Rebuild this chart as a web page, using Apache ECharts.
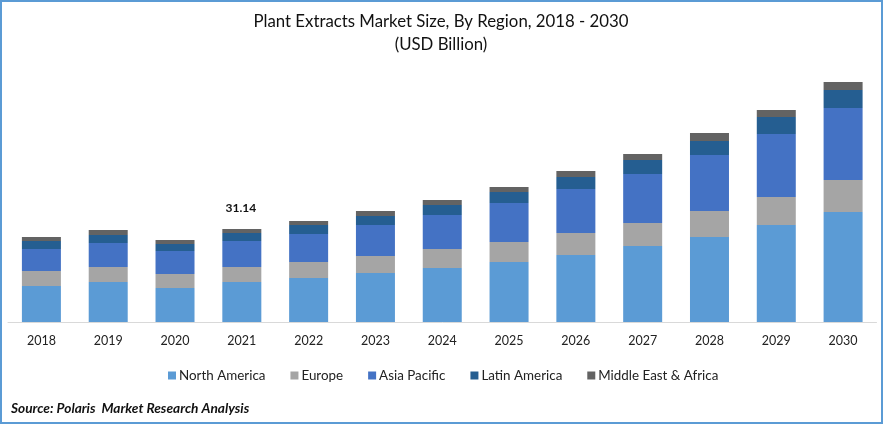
<!DOCTYPE html>
<html>
<head>
<meta charset="utf-8">
<style>
  html, body { margin: 0; padding: 0; background: #fff; }
  #chart { width: 884px; height: 425px; }
</style>
<script src="https://cdn.jsdelivr.net/npm/echarts@6/dist/echarts.min.js"></script>
</head>
<body>
<div id="chart"></div>
<script>
var years = ['2018','2019','2020','2021','2022','2023','2024','2025','2026','2027','2028','2029','2030'];
var northAmerica = [12.06,13.40,11.39,13.40,14.74,16.42,18.09,20.10,22.45,25.46,28.48,32.50,36.85];
var europe = [5.03,5.03,4.69,5.03,5.36,5.70,6.37,6.70,7.37,7.71,8.71,9.38,10.72];
var asiaPacific = [7.37,8.04,7.71,8.71,9.38,10.39,11.39,13.07,14.74,16.42,18.76,21.11,24.12];
var latinAmerica = [2.68,2.68,2.35,2.68,3.02,3.02,3.35,3.69,4.02,4.69,4.69,5.70,6.03];
var middleEast = [1.34,1.68,1.34,1.32,1.34,1.68,1.68,1.68,2.01,2.01,2.68,2.35,2.68];
var labelYear = '2021';
var labelText = '31.14';

var font = 'Lato';
function bar(name, values, color) {
  return { name: name, type: 'bar', stack: 'total', barWidth: 39, data: values, itemStyle: { color: color } };
}

var series = [
  bar('North America', northAmerica, '#5B9BD5'),
  bar('Europe', europe, '#A5A5A5'),
  bar('Asia Pacific', asiaPacific, '#4472C4'),
  bar('Latin America', latinAmerica, '#255E91'),
  bar('Middle East & Africa', middleEast, '#636363')
];
// total is only printed over one year
series[4].label = {
  show: true, position: 'top', distance: 15, offset: [-1, 0],
  fontFamily: font, fontSize: 12, fontWeight: 'bold', color: '#111',
  formatter: function (p) { return p.name === labelYear ? labelText : ''; }
};

var chart = echarts.init(document.getElementById('chart'));
chart.setOption({
  animation: false,
  backgroundColor: '#fff',
  title: [{
    text: 'Plant Extracts Market Size, By Region, 2018 - 2030\n(USD Billion)',
    left: 436, top: 5, textAlign: 'center',
    textStyle: { fontFamily: font, fontSize: 16.8, fontWeight: 'normal', color: '#111', lineHeight: 23 }
  }, {
    text: 'Source: Polaris  Market Research Analysis',
    left: 6, top: 397,
    textStyle: { fontFamily: font, fontSize: 13.7, fontWeight: 'bold', fontStyle: 'italic', color: '#111' }
  }],
  legend: {
    left: 163, top: 364, icon: 'rect', itemWidth: 8, itemHeight: 8, itemGap: 25,
    textStyle: { fontFamily: font, fontSize: 13.4, color: '#222', padding: [0, 0, 0, -2] },
    data: series.map(function (s) { return s.name; })
  },
  grid: { left: 8, right: 7.5, top: 72, bottom: 103 },
  xAxis: {
    type: 'category', data: years,
    axisTick: { show: false },
    axisLine: { lineStyle: { color: '#D9D9D9', width: 1 } },
    axisLabel: { fontFamily: font, fontSize: 12.5, color: '#222', margin: 12 }
  },
  yAxis: { type: 'value', min: 0, max: 83.75, show: false },
  series: series,
  graphic: [{
    type: 'rect', silent: true, z: 100,
    shape: { x: 1, y: 1, width: 881, height: 422 },
    style: { fill: 'none', stroke: '#5B9BD5', lineWidth: 2 }
  }]
});
</script>
</body>
</html>
